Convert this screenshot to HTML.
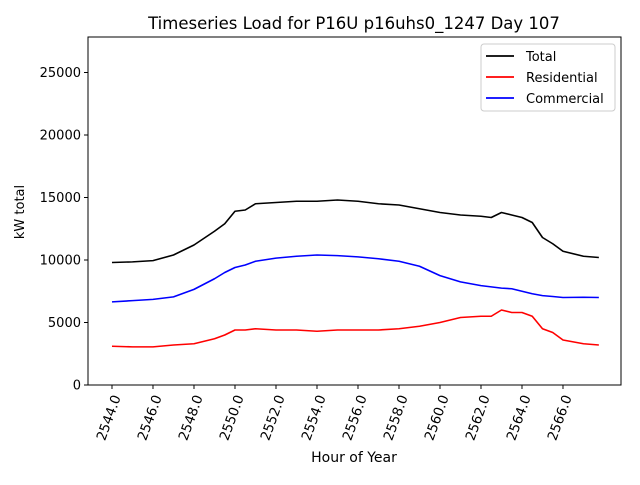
<!DOCTYPE html>
<html><head><meta charset="utf-8"><style>
body{margin:0;background:#fff;}
svg{font-family:"DejaVu Sans","Liberation Sans",sans-serif;}
</style></head><body>
<svg id="chart" width="640" height="480" viewBox="0 0 640 480">
<rect x="0" y="0" width="640" height="480" fill="#fff"/>
<text x="354" y="29" font-size="16.5" text-anchor="middle">Timeseries Load for P16U p16uhs0_1247  Day 107</text>
<g id="plot"></g>
<text x="24" y="212" font-size="13" text-anchor="middle" transform="rotate(-90 24 212)">kW total</text>
<text x="354" y="462" font-size="14" text-anchor="middle">Hour of Year</text>
<g>
<rect x="481" y="44" width="134" height="67" rx="3" fill="#fff" stroke="#ccc" stroke-width="1"/>
<line x1="486" y1="56" x2="514" y2="56" stroke="#000" stroke-width="1.8"/>
<text x="526" y="61" font-size="13">Total</text>
<line x1="486" y1="77" x2="514" y2="77" stroke="#f00" stroke-width="1.8"/>
<text x="526" y="82" font-size="13">Residential</text>
<line x1="486" y1="98" x2="514" y2="98" stroke="#00f" stroke-width="1.8"/>
<text x="526" y="103" font-size="13">Commercial</text>
</g>
</svg>
<script>
const hours=[2544,2545,2546,2547,2548,2549,2549.5,2550,2550.5,2551,2552,2553,2554,2555,2556,2557,2558,2559,2560,2561,2562,2562.5,2563,2563.5,2564,2564.5,2565,2565.5,2566,2567,2567.75];
const total=[9800,9850,9950,10400,11200,12300,12900,13900,14000,14500,14600,14700,14700,14800,14700,14500,14400,14100,13800,13600,13500,13400,13800,13600,13400,13000,11800,11300,10700,10300,10200];
const residential=[3100,3050,3050,3200,3300,3700,4000,4400,4400,4500,4400,4400,4300,4400,4400,4400,4500,4700,5000,5400,5500,5500,6000,5800,5800,5500,4500,4200,3600,3300,3200];
const commercial=[6650,6750,6850,7050,7650,8500,9000,9400,9600,9900,10150,10300,10400,10350,10250,10100,9900,9500,8750,8250,7950,7850,7750,7700,7500,7300,7150,7080,7000,7020,7000];
const yTicks=[0,5000,10000,15000,20000,25000];
const xTicks=[2544,2546,2548,2550,2552,2554,2556,2558,2560,2562,2564,2566];
const L=88,R=621,T=37,B=385;
const xMin=2542.83,xMax=2568.83,yMax=27840;
const xs=v=>L+(v-xMin)/(xMax-xMin)*(R-L);
const ys=v=>B-v/yMax*(B-T);
const NS='http://www.w3.org/2000/svg';
const g=document.getElementById('plot');
function mk(t,a){const e=document.createElementNS(NS,t);for(const k in a)e.setAttribute(k,a[k]);g.appendChild(e);return e;}
const frame=mk('rect',{x:L,y:T,width:R-L,height:B-T,fill:'none',stroke:'#000','stroke-width':1});


yTicks.forEach(v=>{
 const y=ys(v);
 mk('line',{x1:L-4,y1:y,x2:L,y2:y,stroke:'#000'});
 const t=mk('text',{x:L-7,y:y+4.5,'font-size':13,'text-anchor':'end'});
 t.textContent=v;
 
 
});
xTicks.forEach(v=>{
 const x=xs(v);
 mk('line',{x1:x,y1:B,x2:x,y2:B+4,stroke:'#000'});
 const ax=x+9, ay=B+12;
 const t=mk('text',{x:ax,y:ay,'font-size':13.5,'text-anchor':'end',transform:`rotate(-70 ${ax} ${ay})`});
 t.textContent=v.toFixed(1);
 
 
});
function series(vals,color,name){
 const p=mk('polyline',{points:vals.map((v,i)=>xs(hours[i])+','+ys(v)).join(' '),fill:'none',stroke:color,'stroke-width':1.6,'stroke-linejoin':'round'});
 
 
}
series(total,'#000','total-line');
series(residential,'#f00','residential-line');
series(commercial,'#00f','commercial-line');
</script>
</body></html>
